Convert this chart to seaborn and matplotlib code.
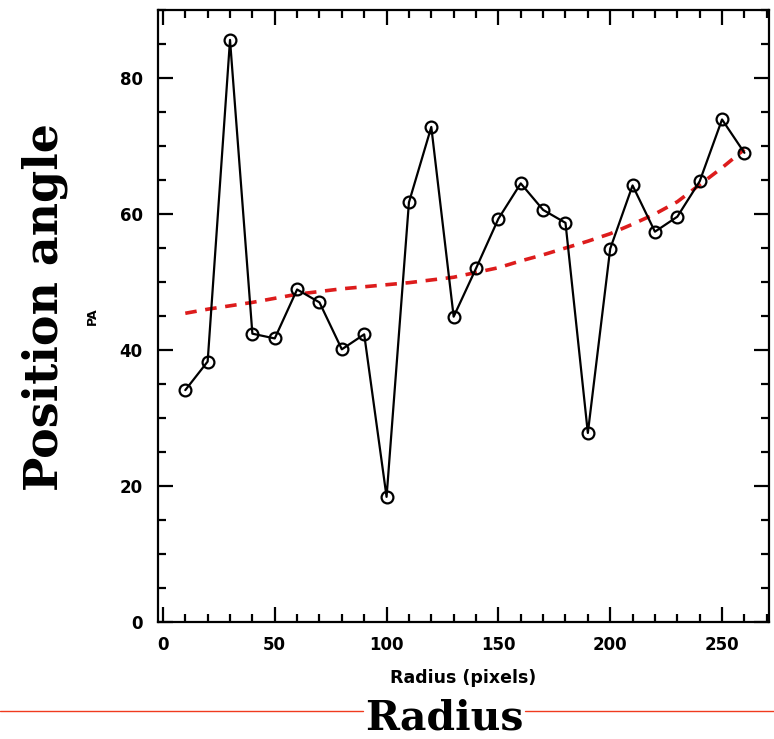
import matplotlib
matplotlib.use("Agg")
import matplotlib.pyplot as plt
import seaborn as sns
import numpy as np
from matplotlib.ticker import MultipleLocator

# Data
radius = [10, 20, 30, 40, 50, 60, 70, 80, 90, 100, 110, 120, 130,
          140, 150, 160, 170, 180, 190, 200, 210, 220, 230, 240, 250, 260]
pa = [34.1, 38.3, 85.6, 42.4, 41.7, 48.9, 47.0, 40.1, 42.3, 18.4, 61.7, 72.8, 44.9,
      52.0, 59.3, 64.5, 60.6, 58.7, 27.8, 54.9, 64.2, 57.4, 59.6, 64.8, 73.9, 69.0]
fit_pa = [45.4, 46.0, 46.5, 47.0, 47.6, 48.2, 48.6, 49.0, 49.3, 49.6, 49.9, 50.3, 50.7,
          51.4, 52.1, 53.1, 54.0, 55.0, 56.0, 57.1, 58.5, 60.0, 61.8, 64.3, 66.8, 69.5]
xticks = [0, 50, 100, 150, 200, 250]
yticks = [0, 20, 40, 60, 80]

sns.set_style("ticks")
plt.rcParams['font.family'] = ['DejaVu Sans']
plt.rcParams['text.color'] = 'black'
plt.rcParams['axes.labelcolor'] = 'black'
plt.rcParams['xtick.color'] = 'black'
plt.rcParams['ytick.color'] = 'black'

fig = plt.figure(figsize=(7.74, 7.39), dpi=100)
ax = fig.add_axes([158/774, 1 - 622/739, (769-158)/774, (622-10)/739])

sns.lineplot(x=radius, y=fit_pa, ax=ax, color="#dd1c1c", linewidth=2.6,
             linestyle=(0, (3.2, 2.4)), zorder=2)
sns.lineplot(x=radius, y=pa, ax=ax, color="black", linewidth=1.6,
             marker="o", markersize=8.5, markerfacecolor="none",
             markeredgecolor="black", markeredgewidth=1.6, zorder=3)

ax.set_xlim(-2.2, 271)
ax.set_ylim(0, 90)
ax.set_xticks(xticks)
ax.set_yticks(yticks)
ax.xaxis.set_minor_locator(MultipleLocator(10))
ax.yaxis.set_minor_locator(MultipleLocator(5))
for s in ax.spines.values():
    s.set_visible(True)
    s.set_linewidth(1.6)
    s.set_color("black")
ax.tick_params(which="both", direction="in", top=True, right=True, color="black", width=1.6)
ax.tick_params(which="major", length=11)
ax.tick_params(which="minor", length=6)
ax.tick_params(axis="y", which="major", pad=11, labelsize=12, labelcolor="black")
ax.tick_params(axis="x", which="major", pad=10, labelsize=12, labelcolor="black")
for lbl in ax.get_xticklabels() + ax.get_yticklabels():
    lbl.set_fontweight("bold")

ax.set_xlabel("Radius (pixels)", fontsize=12.5, fontweight="bold", labelpad=11, color="black")
ax.set_ylabel("PA", fontsize=9, fontweight="bold", labelpad=15, color="black")

# Overlay annotations
line_y = 1 - 711/739
fig.add_artist(plt.Line2D([0, 363/774], [line_y, line_y], color="#f03a1e",
                          linewidth=1.0, transform=fig.transFigure))
fig.add_artist(plt.Line2D([525/774, 1], [line_y, line_y], color="#f03a1e",
                          linewidth=1.0, transform=fig.transFigure))
fig.text(444/774, 1 - 729/739, "Radius", family="DejaVu Serif", fontweight="bold",
         fontsize=29.5, ha="center", va="baseline", color="black")
fig.text(45/774, 1 - 307/739, "Position angle", family="DejaVu Serif", fontweight="bold",
         fontsize=33, ha="center", va="center", rotation=90, color="black")

fig.savefig("out.png", dpi=100)
